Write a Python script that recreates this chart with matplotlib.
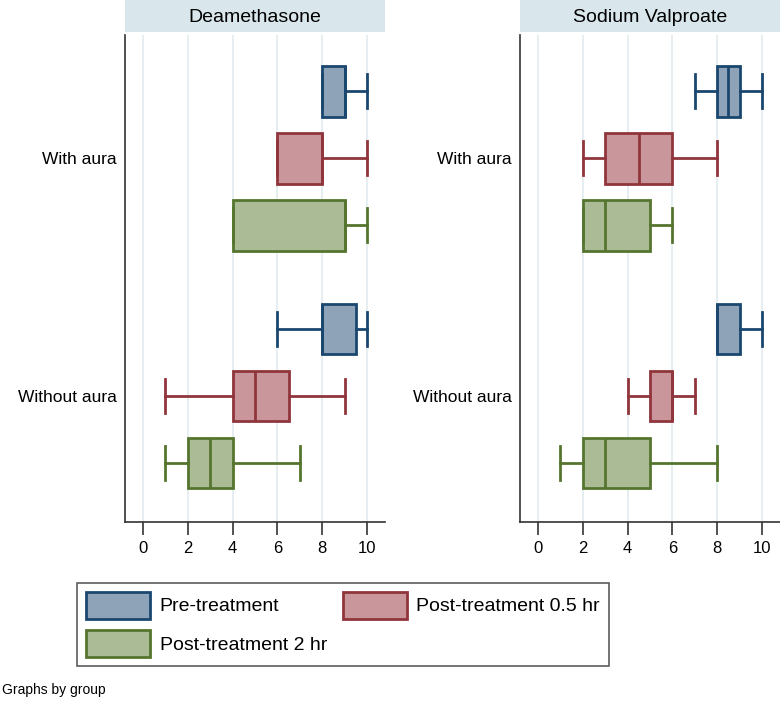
import numpy as np
import matplotlib.pyplot as plt
from matplotlib.patches import Patch

plt.rcParams['font.family'] = ['Liberation Sans', 'DejaVu Sans']

# panels, groups and series
panels = ['Deamethasone', 'Sodium Valproate']
groups = ['With aura', 'Without aura']
series = ['Pre-treatment', 'Post-treatment 0.5 hr', 'Post-treatment 2 hr']

# box stats: (whislo, q1, med, q3, whishi)
deam_with = [(8, 8, 9, 9, 10), (6, 6, 8, 8, 10), (4, 4, 9, 9, 10)]
deam_without = [(6, 8, 8, 9.5, 10), (1, 4, 5, 6.5, 9), (1, 2, 3, 4, 7)]
valp_with = [(7, 8, 8.5, 9, 10), (2, 3, 4.5, 6, 8), (2, 2, 3, 5, 6)]
valp_without = [(8, 8, 8, 9, 10), (4, 5, 6, 6, 7), (1, 2, 3, 5, 8)]
data = {'Deamethasone': [deam_with, deam_without],
        'Sodium Valproate': [valp_with, valp_without]}

edge_cols = ['#1a476f', '#90353b', '#55752f']
fill_cols = ['#8ea2b8', '#c9969b', '#aabb95']

xticks = [0, 2, 4, 6, 8, 10]
group_pos = [[1, 2, 3], [4.55, 5.55, 6.55]]

fig = plt.figure(figsize=(7.8, 7.05), dpi=100)
W, H = 780, 705
lefts = [125, 520]
for k, name in enumerate(panels):
    x0 = lefts[k]
    ax = fig.add_axes([x0 / W, 1 - 522 / H, 260 / W, 487 / H])
    strip = fig.add_axes([x0 / W, 1 - 32 / H, 260 / W, 32 / H])
    strip.set_facecolor('#d9e6ec')
    strip.set_xticks([])
    strip.set_yticks([])
    for s in strip.spines.values():
        s.set_visible(False)
    strip.text(0.5, 0.45, name, ha='center', va='center', fontsize=14,
               transform=strip.transAxes)

    for x in xticks:
        ax.axvline(x, color='#e4edf0', lw=1.3, zorder=0)

    for g in range(2):
        for j in range(3):
            lo, q1, med, q3, hi = data[name][g][j]
            st = [dict(whislo=lo, q1=q1, med=med, q3=q3, whishi=hi, fliers=[])]
            ec = edge_cols[j]
            ax.bxp(st, positions=[group_pos[g][j]], widths=0.76, capwidths=0.5,
                   orientation='horizontal', patch_artist=True, showfliers=False,
                   boxprops=dict(facecolor=fill_cols[j], edgecolor=ec, lw=2),
                   medianprops=dict(color=ec, lw=2),
                   whiskerprops=dict(color=ec, lw=2),
                   capprops=dict(color=ec, lw=2), manage_ticks=False)

    ax.set_xlim(-0.8, 10.8)
    ax.set_ylim(7.43, 0.164)
    ax.set_xticks(xticks)
    ax.set_xticklabels([str(x) for x in xticks], fontsize=12)
    ax.set_yticks([2, 5.55])
    ax.set_yticklabels(groups, fontsize=12.5)
    ax.tick_params(axis='y', length=0, pad=6)
    ax.tick_params(axis='x', length=9, width=1.2, color='#333333', pad=5)
    ax.spines['top'].set_visible(False)
    ax.spines['right'].set_visible(False)
    ax.spines['left'].set_color('#333333')
    ax.spines['bottom'].set_color('#333333')
    ax.spines['left'].set_linewidth(1.2)
    ax.spines['bottom'].set_linewidth(1.2)

handles = [Patch(facecolor=fill_cols[j], edgecolor=edge_cols[j], lw=2)
           for j in range(3)]
leg = fig.legend([handles[0], handles[2], handles[1]],
                 [series[0], series[2], series[1]], ncol=2,
                 loc='upper left', bbox_to_anchor=(77 / W, 1 - 583 / H),
                 fontsize=14, frameon=True,
                 fancybox=False, handlelength=3.3, handleheight=1.75,
                 borderpad=0.45, labelspacing=0.6, columnspacing=0.8,
                 handletextpad=0.5, borderaxespad=0)
leg.get_frame().set_edgecolor('#333333')
leg.get_frame().set_linewidth(1.2)

fig.text(2 / W, 1 - 690 / H, 'Graphs by group', fontsize=10, va='center')

fig.savefig('out.png', dpi=100)
